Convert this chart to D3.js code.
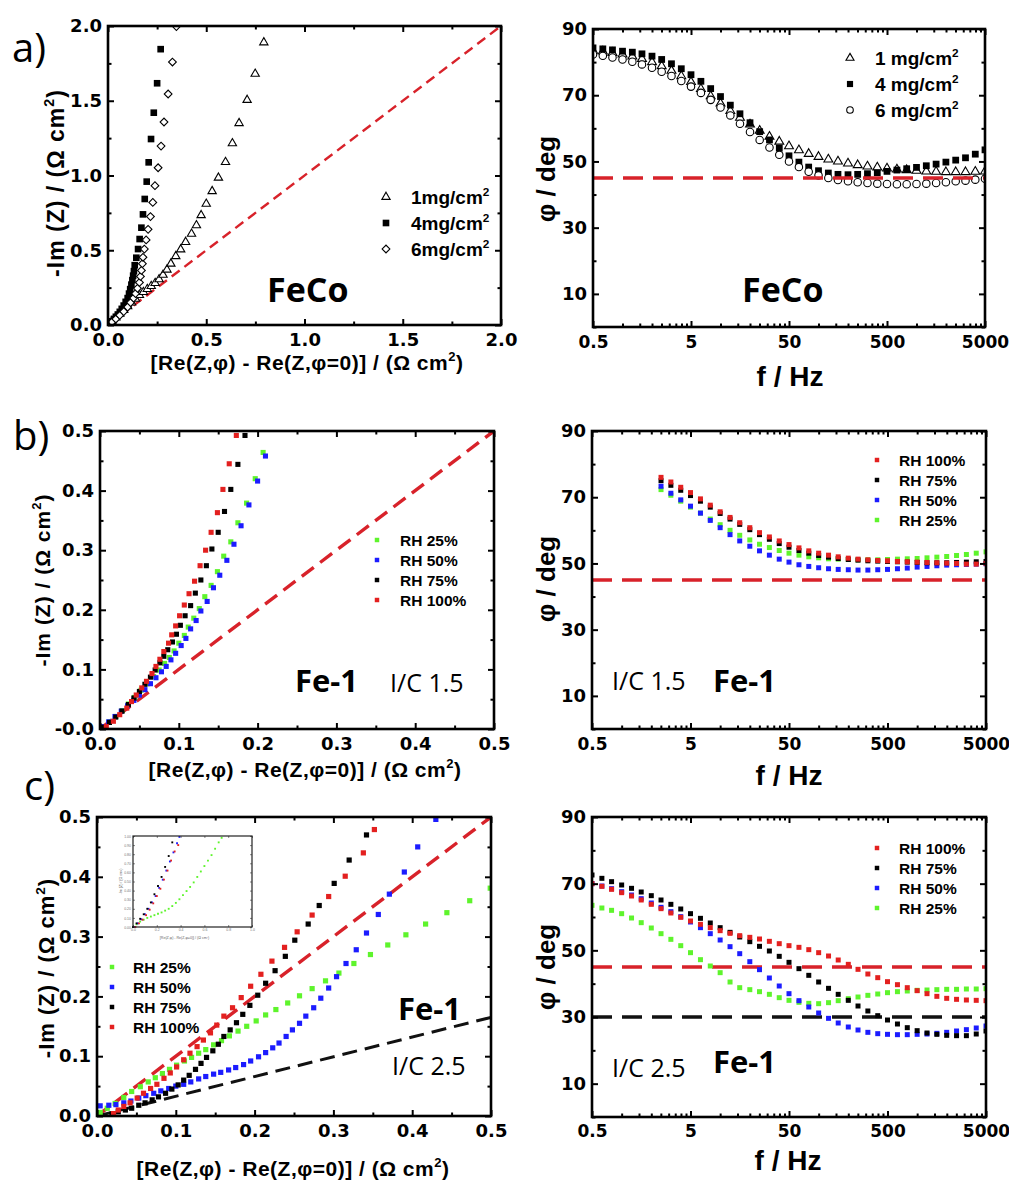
<!DOCTYPE html>
<html>
<head>
<meta charset="utf-8">
<script src="https://cdn.jsdelivr.net/npm/d3@7"></script>
<style>
  body { margin: 0; background: #fff; }
</style>
</head>
<body>
<svg id="fig" width="1009" height="1183"></svg>
<script>
// ---------- data ----------
// a) left: FeCo, x = Re diff, y = -Im (Ohm cm2)
const aLoad1 = [[0,0],[0.02,0.025],[0.04,0.05],[0.06,0.075],[0.08,0.10],[0.10,0.125],[0.12,0.15],[0.14,0.175],[0.16,0.20],[0.18,0.22],[0.20,0.24],[0.22,0.26],[0.24,0.28],[0.26,0.305],[0.28,0.335],[0.30,0.37],[0.32,0.41],[0.345,0.46],[0.37,0.505],[0.395,0.555],[0.425,0.61],[0.45,0.667],[0.474,0.734],[0.50,0.81],[0.53,0.895],[0.562,0.985],[0.598,1.09],[0.633,1.215],[0.667,1.35],[0.708,1.505],[0.749,1.68],[0.793,1.89]];
const aLoad4 = [[0,0],[0.01,0.012],[0.02,0.025],[0.03,0.04],[0.04,0.055],[0.05,0.07],[0.06,0.088],[0.07,0.108],[0.08,0.13],[0.09,0.155],[0.10,0.18],[0.107,0.21],[0.113,0.24],[0.119,0.27],[0.124,0.30],[0.128,0.33],[0.132,0.36],[0.136,0.40],[0.144,0.45],[0.153,0.508],[0.161,0.575],[0.17,0.651],[0.178,0.74],[0.187,0.843],[0.197,0.959],[0.207,1.088],[0.219,1.244],[0.233,1.42],[0.25,1.617],[0.268,1.845]];
const aLoad6 = [[0,0],[0.02,0.02],[0.04,0.04],[0.06,0.065],[0.08,0.09],[0.10,0.12],[0.115,0.15],[0.13,0.18],[0.14,0.21],[0.15,0.245],[0.16,0.285],[0.165,0.325],[0.17,0.365],[0.175,0.41],[0.178,0.453],[0.185,0.508],[0.194,0.569],[0.204,0.64],[0.216,0.725],[0.228,0.82],[0.239,0.932],[0.255,1.052],[0.27,1.197],[0.285,1.358],[0.306,1.545],[0.328,1.759],[0.348,1.996]];
const aLeftRef = [[0,0],[2,2]];

// shared frequency list (Hz) for the phase plots
const freqs = [0.5,0.63,0.79,1.0,1.26,1.58,2.0,2.51,3.16,3.98,5.0,6.31,7.94,10,12.6,15.8,20,25.1,31.6,39.8,50,63.1,79.4,100,126,158,200,251,316,398,500,631,794,1000,1259,1585,1995,2512,3162,3981,5000];

// a) right: phase (deg)
const aPh1 = [83.5,83.2,82.8,82.3,81.7,81,80,78.8,77.4,75.8,74,71.9,69.7,67.5,65.3,63.2,61.2,59.3,57.5,56,54.6,53.4,52.3,51.4,50.6,50,49.4,48.9,48.5,48.2,47.9,47.6,47.4,47.2,47,46.9,46.8,46.8,46.8,46.9,47];
const aPh4 = [84.3,84,83.7,83.3,83,82.5,81.8,80.8,79.5,78,76.2,74.2,72,69.6,67,64.4,61.7,59,56.5,54,51.7,49.8,48.3,47.2,46.5,46.1,46,46.1,46.3,46.6,47,47.4,47.8,48.2,48.7,49.2,49.8,50.4,51.1,52.2,53.5];
const aPh6 = [82.3,81.9,81.4,80.8,80.1,79.3,78.3,77.1,75.8,74.3,72.6,70.7,68.6,66.3,63.9,61.4,58.9,56.5,54.2,52,50,48.3,46.9,45.8,45,44.4,44,43.7,43.5,43.3,43.2,43.1,43.1,43.2,43.3,43.5,43.7,44,44.2,44.5,44.8];

// b) left: Fe-1, I/C 1.5
const bRh25 = [[0.004,0.004],[0.012,0.012],[0.02,0.021],[0.028,0.031],[0.036,0.042],[0.044,0.053],[0.052,0.065],[0.06,0.076],[0.068,0.088],[0.075,0.099],[0.082,0.11],[0.088,0.12],[0.094,0.131],[0.1,0.144],[0.107,0.157],[0.112,0.171],[0.119,0.186],[0.126,0.202],[0.133,0.222],[0.141,0.241],[0.149,0.264],[0.157,0.29],[0.166,0.314],[0.175,0.346],[0.186,0.379],[0.197,0.42],[0.207,0.464]];
const bRh50 = [[0.004,0.004],[0.011,0.012],[0.019,0.021],[0.027,0.03],[0.035,0.039],[0.043,0.048],[0.05,0.057],[0.057,0.066],[0.064,0.076],[0.071,0.086],[0.078,0.096],[0.084,0.105],[0.09,0.116],[0.096,0.127],[0.103,0.14],[0.109,0.152],[0.115,0.168],[0.122,0.182],[0.128,0.198],[0.136,0.214],[0.144,0.237],[0.152,0.258],[0.161,0.283],[0.17,0.31],[0.179,0.341],[0.189,0.376],[0.2,0.416],[0.21,0.458]];
const bRh75 = [[0.004,0.003],[0.012,0.011],[0.02,0.02],[0.028,0.03],[0.036,0.041],[0.043,0.052],[0.05,0.063],[0.057,0.075],[0.064,0.087],[0.07,0.099],[0.076,0.111],[0.081,0.122],[0.086,0.133],[0.092,0.146],[0.097,0.159],[0.102,0.174],[0.108,0.19],[0.115,0.207],[0.121,0.228],[0.128,0.25],[0.135,0.274],[0.142,0.302],[0.15,0.33],[0.158,0.365],[0.166,0.402],[0.175,0.444],[0.184,0.4925]];
const bRh100 = [[0.008,0.004],[0.017,0.013],[0.025,0.024],[0.034,0.035],[0.04,0.046],[0.046,0.057],[0.053,0.069],[0.059,0.08],[0.066,0.093],[0.071,0.105],[0.076,0.117],[0.081,0.13],[0.087,0.144],[0.091,0.158],[0.096,0.173],[0.101,0.19],[0.107,0.208],[0.113,0.227],[0.12,0.248],[0.127,0.274],[0.134,0.3],[0.141,0.33],[0.149,0.363],[0.156,0.402],[0.164,0.445],[0.173,0.4925]];
const bLeftRef = [[0,0],[0.5,0.5]];

// b) right: phase, measured from 2.51 Hz upward
const bFreqs = freqs.slice(7);
const bPh100 = [76,74.6,73,71.4,69.5,67.6,65.6,63.9,62.3,60.8,59.3,58,56.8,55.7,54.7,53.8,53.1,52.5,52,51.6,51.3,51.1,50.9,50.8,50.6,50.5,50.4,50.3,50.2,50.1,50,49.8,49.8,50];
const bPh75 = [75,73.6,72.1,70.5,68.8,67,65.1,63.4,61.8,60.2,58.7,57.3,56,54.9,53.9,53.1,52.4,51.9,51.5,51.2,51,50.8,50.7,50.6,50.5,50.4,50.3,50.2,50.2,50.2,50.3,50.4,50.5,50.6];
const bPh50 = [73.3,71.2,69.2,67.3,65.2,63,60.8,58.7,56.8,55.2,53.8,52.5,51.3,50.4,49.6,49.1,48.7,48.4,48.2,48.1,48,48,48.1,48.2,48.4,48.6,48.9,49.1,49.3,49.5,49.6,49.7,49.8,49.9];
const bPh25 = [72.3,70.6,68.8,67,65.2,63.4,61.7,60,58.5,57.1,55.8,54.8,53.9,53.1,52.5,52,51.7,51.4,51.3,51.2,51.1,51.1,51.1,51.2,51.3,51.4,51.5,51.7,51.9,52.1,52.4,52.7,53.1,53.5];

// c) left: Fe-1, I/C 2.5
const cRh25 = [[0.004,0.006],[0.013,0.013],[0.023,0.021],[0.034,0.031],[0.044,0.041],[0.055,0.049],[0.065,0.057],[0.074,0.064],[0.083,0.071],[0.092,0.078],[0.101,0.085],[0.111,0.092],[0.12,0.098],[0.129,0.105],[0.138,0.111],[0.148,0.119],[0.158,0.126],[0.168,0.134],[0.179,0.142],[0.19,0.15],[0.202,0.159],[0.214,0.169],[0.227,0.178],[0.242,0.189],[0.257,0.201],[0.273,0.213],[0.29,0.226],[0.307,0.239],[0.326,0.255],[0.347,0.27],[0.369,0.286],[0.392,0.303],[0.417,0.321],[0.444,0.34],[0.473,0.36],[0.499,0.381]];
const cRh50 = [[0.004,0.017],[0.015,0.018],[0.024,0.019],[0.034,0.022],[0.043,0.025],[0.053,0.03],[0.062,0.034],[0.072,0.038],[0.081,0.042],[0.091,0.046],[0.1,0.05],[0.11,0.053],[0.119,0.057],[0.129,0.062],[0.138,0.066],[0.148,0.07],[0.157,0.073],[0.167,0.077],[0.176,0.081],[0.186,0.086],[0.195,0.092],[0.205,0.099],[0.214,0.106],[0.223,0.114],[0.231,0.122],[0.24,0.133],[0.248,0.144],[0.257,0.155],[0.265,0.167],[0.275,0.181],[0.284,0.197],[0.294,0.214],[0.304,0.233],[0.316,0.255],[0.329,0.278],[0.342,0.306],[0.357,0.337],[0.371,0.371],[0.39,0.408],[0.407,0.45],[0.43,0.496]];
const cRh75 = [[0.019,0.003],[0.027,0.007],[0.036,0.01],[0.044,0.013],[0.053,0.018],[0.061,0.022],[0.07,0.027],[0.078,0.032],[0.087,0.038],[0.095,0.045],[0.103,0.052],[0.11,0.06],[0.117,0.068],[0.125,0.078],[0.132,0.088],[0.139,0.098],[0.147,0.109],[0.154,0.12],[0.161,0.133],[0.169,0.144],[0.177,0.156],[0.185,0.17],[0.194,0.185],[0.204,0.202],[0.214,0.222],[0.226,0.243],[0.239,0.267],[0.251,0.294],[0.268,0.321],[0.282,0.352],[0.301,0.389],[0.32,0.428],[0.342,0.47]];
const cRh100 = [[0.021,0.004],[0.027,0.01],[0.034,0.016],[0.042,0.022],[0.051,0.03],[0.059,0.038],[0.068,0.046],[0.076,0.053],[0.085,0.063],[0.093,0.072],[0.101,0.082],[0.11,0.094],[0.118,0.105],[0.127,0.116],[0.135,0.127],[0.144,0.139],[0.152,0.152],[0.161,0.167],[0.172,0.181],[0.183,0.198],[0.195,0.217],[0.208,0.237],[0.222,0.259],[0.238,0.282],[0.254,0.308],[0.273,0.336],[0.294,0.367],[0.315,0.401],[0.338,0.44],[0.352,0.479]];
const cLeftRefRed = [[0,0],[0.5,0.5]];
const cLeftRefBlack = [[0,0],[0.5,0.165]];

// c) inset (normalised axes)
const insetRh25 = [[0,0],[0.03,0.03],[0.06,0.06],[0.09,0.08],[0.12,0.10],[0.15,0.115],[0.18,0.13],[0.21,0.145],[0.24,0.16],[0.27,0.18],[0.30,0.2],[0.33,0.23],[0.36,0.265],[0.39,0.305],[0.42,0.35],[0.45,0.395],[0.48,0.44],[0.51,0.49],[0.54,0.55],[0.57,0.61],[0.60,0.67],[0.63,0.73],[0.66,0.79],[0.69,0.86],[0.72,0.93],[0.745,0.98]];
const insetRh50 = [[0.01,0],[0.04,0.04],[0.07,0.085],[0.1,0.14],[0.13,0.2],[0.16,0.27],[0.19,0.34],[0.22,0.43],[0.25,0.52],[0.28,0.62],[0.31,0.72],[0.34,0.82],[0.37,0.92],[0.39,0.99]];
const insetRh75 = [[0,0],[0.03,0.04],[0.06,0.09],[0.09,0.14],[0.12,0.2],[0.15,0.27],[0.18,0.36],[0.21,0.45],[0.24,0.55],[0.27,0.66],[0.30,0.78],[0.33,0.93]];
const insetRh100 = [[0.02,0],[0.05,0.04],[0.08,0.08],[0.11,0.13],[0.14,0.19],[0.17,0.26],[0.2,0.34],[0.23,0.42],[0.26,0.52],[0.29,0.62],[0.32,0.73],[0.35,0.83],[0.38,0.9]];

// c) right: phase
const cPh100 = [70,69.2,68.3,67.3,66.3,65.1,63.8,62.5,61.2,59.9,58.8,57.8,56.8,55.9,55.1,54.4,53.9,53.4,52.7,52,51.4,50.9,50.2,49.3,48.3,47.1,45.8,44.3,42.9,41.8,40.6,39.7,38.8,37.9,37,36.2,35.6,35.3,35.1,35,34.9];
const cPh75 = [72.6,71.6,70.6,69.6,68.6,67.5,66.4,65.1,63.8,62.4,61,59.6,58.2,56.8,55.4,54,52.6,51.2,49.8,48.2,46.4,44.5,42.5,40.5,38.6,36.8,35,33.3,31.8,30.4,29.1,27.9,26.8,25.9,25.2,24.8,24.5,24.4,24.4,24.9,25.8];
const cPh50 = [70,69.3,68.5,67.6,66.6,65.5,64.2,62.9,61.6,60.1,58.5,56.8,55,53.1,51.1,49,46.6,44.2,41.7,39.3,37,34.9,33,31.2,29.6,28.2,27,26.1,25.4,25,24.8,24.7,24.7,24.8,24.9,25.1,25.4,25.8,26.2,26.7,27.3];
const cPh25 = [63.5,62.7,62,61,59.7,58.3,56.7,55,53.3,51.4,49.3,47.2,45.3,43.3,40.5,38.8,38.2,37.6,36.8,35.8,35,34.4,34.1,34,34.3,34.9,35.5,36,36.5,36.9,37.3,37.6,37.8,38,38.1,38.2,38.3,38.3,38.4,38.4,38.5];

// reference phase lines (deg)
const phaseRed = 45;
const phaseBlack = 30;

// tick labels
const nyqTicksA = [0, 0.5, 1.0, 1.5, 2.0];
const nyqTicksBC = [0, 0.1, 0.2, 0.3, 0.4, 0.5];
const freqTicks = [0.5, 5, 50, 500, 5000];
const phaseTicks = [10, 30, 50, 70, 90];

// ---------- styles ----------
const FONT = '"Liberation Sans", Arial, sans-serif';
const TICKFONT = '"DejaVu Sans", sans-serif';
const ANNOT = '"Open Sans", sans-serif';
const RED = "#e3201f", GREEN = "#5ef42c", BLUE = "#1c1cff", BLACK = "#000";
const DASHRED = "#d8222a";

const svg = d3.select("#fig");
const defs = svg.append("defs");
const fmt1 = d3.format(".1f");

function stepTicks(lo, hi, step) {
    const t = [];
    for (let v = lo; v <= hi + 1e-9; v += step) t.push(+v.toFixed(4));
    return t;
}
function logMinor(lo, hi) {
    const t = [];
    for (let d = lo; d < hi; d *= 10) for (let m = 2; m <= 9; m++) t.push(d * m);
    return t;
}

function addAxis(layer, gen, scale, tr, vals, len, fmt, pad, fs) {
    const a = gen(scale).tickValues(vals).tickSizeInner(-len).tickSizeOuter(0)
        .tickPadding(pad).tickFormat(fmt);
    const s = layer.append("g").attr("transform", tr).call(a)
        .attr("font-family", TICKFONT).attr("font-size", fs).attr("font-weight", "bold");
    s.select(".domain").remove();
    s.selectAll(".tick line").attr("stroke", "#000").attr("stroke-width", 2);
    s.selectAll(".tick text").attr("fill", "#000");
}

function makePanel(cfg) {
    const b = cfg.box;
    const x = (cfg.logX ? d3.scaleLog() : d3.scaleLinear()).domain(cfg.xDomain).range([b.left, b.right]);
    const y = d3.scaleLinear().domain(cfg.yDomain).range([b.bottom, b.top]);
    const g = svg.append("g");
    defs.append("clipPath").attr("id", "clip-" + cfg.name).append("rect")
        .attr("x", b.left).attr("y", b.top).attr("width", b.right - b.left).attr("height", b.bottom - b.top);
    const plot = g.append("g").attr("clip-path", `url(#clip-${cfg.name})`);
    const axes = g.append("g");
    const none = () => "";
    const xt = cfg.xTicks, yt = cfg.yTicks;
    const xfs = xt.fs || 18;

    addAxis(axes, d3.axisBottom, x, `translate(0,${b.bottom})`, xt.major, 6, xt.fmt, xt.pad, xfs);
    addAxis(axes, d3.axisBottom, x, `translate(0,${b.bottom})`, xt.minor, 3.5, none, 0, xfs);
    addAxis(axes, d3.axisTop, x, `translate(0,${b.top})`, xt.major, 6, none, 0, xfs);
    addAxis(axes, d3.axisTop, x, `translate(0,${b.top})`, xt.minor, 3.5, none, 0, xfs);
    addAxis(axes, d3.axisLeft, y, `translate(${b.left},0)`, yt.major, 6, yt.fmt, yt.pad, 18);
    addAxis(axes, d3.axisLeft, y, `translate(${b.left},0)`, yt.minor, 3.5, none, 0, 18);
    addAxis(axes, d3.axisRight, y, `translate(${b.right},0)`, yt.major, 6, none, 0, 18);
    addAxis(axes, d3.axisRight, y, `translate(${b.right},0)`, yt.minor, 3.5, none, 0, 18);

    axes.append("rect").attr("x", b.left).attr("y", b.top)
        .attr("width", b.right - b.left).attr("height", b.bottom - b.top)
        .attr("fill", "none").attr("stroke", "#000").attr("stroke-width", 2.6);
    return { x, y, plot, g };
}

function drawPoints(layer, x, y, pts, st) {
    layer.append("g").selectAll("path").data(pts).join("path")
        .attr("transform", d => `translate(${x(d[0])},${y(d[1])})` + (st.rotate ? " rotate(45)" : ""))
        .attr("d", d3.symbol().type(st.type).size(st.size))
        .attr("fill", st.fill)
        .attr("stroke", st.stroke || "none")
        .attr("stroke-width", st.sw || 0);
}

function drawRef(layer, x, y, pts, color, dash, width) {
    layer.append("path").datum(pts)
        .attr("d", d3.line().x(d => x(d[0])).y(d => y(d[1])))
        .attr("fill", "none").attr("stroke", color)
        .attr("stroke-width", width).attr("stroke-dasharray", dash);
}

function phasePts(fs, vals) {
    return fs.map((f, i) => [f, vals[i]]);
}

// text with superscripts: parts are strings or {sup: "2"}
function rich(sel, parts, fs) {
    let shift = 0;
    parts.forEach(p => {
        const isSup = typeof p === "object";
        const target = isSup ? -fs * 0.42 : 0;
        sel.append("tspan").attr("dy", target - shift)
            .attr("font-size", isSup ? fs * 0.62 : fs)
            .text(isSup ? p.sup : p);
        shift = target;
    });
    return sel;
}

function label(x, y, parts, fs, opts) {
    opts = opts || {};
    const t = svg.append("text")
        .attr("transform", opts.rotate ? `translate(${x},${y}) rotate(-90)` : `translate(${x},${y})`)
        .attr("text-anchor", opts.anchor || "middle")
        .attr("font-family", opts.family || FONT)
        .attr("font-weight", opts.weight || "bold")
        .attr("font-size", fs)
        .attr("letter-spacing", opts.ls || 0)
        .attr("fill", "#000");
    return rich(t, parts, fs);
}

function legend(items, mx, tx, rows, fs) {
    items.forEach((it, i) => {
        svg.append("path")
            .attr("transform", `translate(${mx},${rows[i]})` + (it.st.rotate ? " rotate(45)" : ""))
            .attr("d", d3.symbol().type(it.st.type).size(it.st.legendSize || it.st.size))
            .attr("fill", it.st.fill).attr("stroke", it.st.stroke || "none").attr("stroke-width", it.st.sw || 0);
        label(tx, rows[i] + fs * 0.36, it.label, fs, { anchor: "start" });
    });
}

// marker styles
const triA = { type: d3.symbolTriangle, size: 30, fill: "#fff", stroke: "#000", sw: 1.1 };
const sqA = { type: d3.symbolSquare, size: 44, fill: "#000" };
const diaA = { type: d3.symbolSquare, size: 30, fill: "#fff", stroke: "#000", sw: 1.1, rotate: true };
const triR = { type: d3.symbolTriangle, size: 34, fill: "#fff", stroke: "#000", sw: 1.1, legendSize: 28 };
const sqR = { type: d3.symbolSquare, size: 46, fill: "#000", legendSize: 38 };
const circR = { type: d3.symbolCircle, size: 44, fill: "#fff", stroke: "#000", sw: 1.1, legendSize: 34 };
function sqc(color, size) { return { type: d3.symbolSquare, size: size, fill: color, legendSize: 20 }; }

const logMinorTicks = logMinor(0.5, 5000);
const phaseMinor = [0, 20, 40, 60, 80];
const freqFmt = d => String(d);

// ---------- a) left ----------
const aL = makePanel({
    name: "aL", box: { left: 108, right: 501, top: 26, bottom: 325 },
    xDomain: [0, 2], yDomain: [0, 2],
    xTicks: { major: nyqTicksA, minor: stepTicks(0.25, 1.75, 0.5), fmt: fmt1, pad: 8 },
    yTicks: { major: nyqTicksA, minor: stepTicks(0.25, 1.75, 0.5), fmt: fmt1, pad: 6 }
});
drawRef(aL.plot, aL.x, aL.y, aLeftRef, DASHRED, "10,6", 2.4);
drawPoints(aL.plot, aL.x, aL.y, aLoad1, triA);
drawPoints(aL.plot, aL.x, aL.y, aLoad4, sqA);
drawPoints(aL.plot, aL.x, aL.y, aLoad6, diaA);
legend([
    { st: triA, label: ["1mg/cm", { sup: "2" }] },
    { st: sqA, label: ["4mg/cm", { sup: "2" }] },
    { st: diaA, label: ["6mg/cm", { sup: "2" }] }
], 386, 411, [197, 223, 249], 19);

// ---------- a) right ----------
const aR = makePanel({
    name: "aR", box: { left: 593, right: 985, top: 29, bottom: 327 }, logX: true,
    xDomain: [0.5, 5000], yDomain: [0, 90],
    xTicks: { major: freqTicks, minor: logMinorTicks, fmt: freqFmt, pad: 9, fs: 17 },
    yTicks: { major: phaseTicks, minor: phaseMinor, fmt: d3.format("d"), pad: 6 }
});
drawPoints(aR.plot, aR.x, aR.y, phasePts(freqs, aPh1), triR);
drawPoints(aR.plot, aR.x, aR.y, phasePts(freqs, aPh4), sqR);
drawPoints(aR.plot, aR.x, aR.y, phasePts(freqs, aPh6), circR);
drawRef(aR.plot, aR.x, aR.y, [[0.5, phaseRed], [5000, phaseRed]], DASHRED, "20,10", 3.4);
legend([
    { st: triR, label: ["1 mg/cm", { sup: "2" }] },
    { st: sqR, label: ["4 mg/cm", { sup: "2" }] },
    { st: circR, label: ["6 mg/cm", { sup: "2" }] }
], 850, 875, [58, 84, 110], 19);

// ---------- b) left ----------
const bL = makePanel({
    name: "bL", box: { left: 100, right: 494, top: 431, bottom: 729 },
    xDomain: [0, 0.5], yDomain: [0, 0.5],
    xTicks: { major: nyqTicksBC, minor: stepTicks(0.05, 0.45, 0.1), fmt: fmt1, pad: 8 },
    yTicks: { major: nyqTicksBC, minor: stepTicks(0.05, 0.45, 0.1), fmt: d => d === 0 ? "-0.0" : fmt1(d), pad: 6 }
});
drawRef(bL.plot, bL.x, bL.y, bLeftRef, DASHRED, "15,8", 3.4);
drawPoints(bL.plot, bL.x, bL.y, bRh25, sqc(GREEN, 26));
drawPoints(bL.plot, bL.x, bL.y, bRh50, sqc(BLUE, 26));
drawPoints(bL.plot, bL.x, bL.y, bRh75, sqc(BLACK, 26));
drawPoints(bL.plot, bL.x, bL.y, bRh100, sqc(RED, 26));
legend([
    { st: sqc(GREEN, 26), label: ["RH 25%"] },
    { st: sqc(BLUE, 26), label: ["RH 50%"] },
    { st: sqc(BLACK, 26), label: ["RH 75%"] },
    { st: sqc(RED, 26), label: ["RH 100%"] }
], 377, 400, [540, 560, 580, 600], 15.5);

// ---------- b) right ----------
const bR = makePanel({
    name: "bR", box: { left: 592, right: 986, top: 431, bottom: 729 }, logX: true,
    xDomain: [0.5, 5000], yDomain: [0, 90],
    xTicks: { major: freqTicks, minor: logMinorTicks, fmt: freqFmt, pad: 9, fs: 17 },
    yTicks: { major: phaseTicks, minor: phaseMinor, fmt: d3.format("d"), pad: 6 }
});
drawRef(bR.plot, bR.x, bR.y, [[0.5, phaseRed], [5000, phaseRed]], DASHRED, "20,10", 3.4);
drawPoints(bR.plot, bR.x, bR.y, phasePts(bFreqs, bPh25), sqc(GREEN, 25));
drawPoints(bR.plot, bR.x, bR.y, phasePts(bFreqs, bPh50), sqc(BLUE, 25));
drawPoints(bR.plot, bR.x, bR.y, phasePts(bFreqs, bPh75), sqc(BLACK, 25));
drawPoints(bR.plot, bR.x, bR.y, phasePts(bFreqs, bPh100), sqc(RED, 25));
legend([
    { st: sqc(RED, 25), label: ["RH 100%"] },
    { st: sqc(BLACK, 25), label: ["RH 75%"] },
    { st: sqc(BLUE, 25), label: ["RH 50%"] },
    { st: sqc(GREEN, 25), label: ["RH 25%"] }
], 877, 899, [460, 480, 500, 520], 15.5);

// ---------- c) left ----------
const cL = makePanel({
    name: "cL", box: { left: 97, right: 491, top: 817, bottom: 1116 },
    xDomain: [0, 0.5], yDomain: [0, 0.5],
    xTicks: { major: nyqTicksBC, minor: stepTicks(0.05, 0.45, 0.1), fmt: fmt1, pad: 8 },
    yTicks: { major: nyqTicksBC, minor: stepTicks(0.05, 0.45, 0.1), fmt: fmt1, pad: 6 }
});
drawRef(cL.plot, cL.x, cL.y, cLeftRefRed, DASHRED, "15,8", 3.4);
drawRef(cL.plot, cL.x, cL.y, cLeftRefBlack, "#111", "15,8", 3);
drawPoints(cL.plot, cL.x, cL.y, cRh25, sqc(GREEN, 27));
drawPoints(cL.plot, cL.x, cL.y, cRh50, sqc(BLUE, 27));
drawPoints(cL.plot, cL.x, cL.y, cRh75, sqc(BLACK, 27));
drawPoints(cL.plot, cL.x, cL.y, cRh100, sqc(RED, 27));
legend([
    { st: sqc(GREEN, 27), label: ["RH 25%"] },
    { st: sqc(BLUE, 27), label: ["RH 50%"] },
    { st: sqc(BLACK, 27), label: ["RH 75%"] },
    { st: sqc(RED, 27), label: ["RH 100%"] }
], 112, 133, [967, 987, 1007, 1027], 15.5);

// inset
(function () {
    const b = { left: 133, right: 252, top: 836, bottom: 927 };
    const x = d3.scaleLinear().domain([0, 1]).range([b.left, b.right]);
    const y = d3.scaleLinear().domain([0, 1]).range([b.bottom, b.top]);
    const g = svg.append("g");
    g.append("rect").attr("x", b.left).attr("y", b.top).attr("width", b.right - b.left)
        .attr("height", b.bottom - b.top).attr("fill", "#fff");
    const small = (gen, tr, vals, fmt, pad) => {
        const s = g.append("g").attr("transform", tr)
            .call(gen.tickValues(vals).tickSizeInner(-2).tickSizeOuter(0).tickPadding(pad).tickFormat(fmt))
            .attr("font-family", FONT).attr("font-size", 3.5);
        s.select(".domain").remove();
        s.selectAll("line").attr("stroke", "#333").attr("stroke-width", 0.6);
        s.selectAll("text").attr("fill", "#777");
    };
    const tv = stepTicks(0, 1, 0.2);
    small(d3.axisBottom(x), `translate(0,${b.bottom})`, tv, d3.format(".1f"), 2);
    small(d3.axisLeft(y), `translate(${b.left},0)`, stepTicks(0, 1, 0.1), d3.format(".2f"), 2);
    small(d3.axisTop(x), `translate(0,${b.top})`, tv, () => "", 0);
    small(d3.axisRight(y), `translate(${b.right},0)`, stepTicks(0, 1, 0.1), () => "", 0);
    const st = c => ({ type: d3.symbolSquare, size: 3.5, fill: c });
    drawPoints(g, x, y, insetRh25, st(GREEN));
    drawPoints(g, x, y, insetRh50, st(BLUE));
    drawPoints(g, x, y, insetRh75, st(BLACK));
    drawPoints(g, x, y, insetRh100, st(RED));
    g.append("rect").attr("x", b.left).attr("y", b.top).attr("width", b.right - b.left)
        .attr("height", b.bottom - b.top).attr("fill", "none").attr("stroke", "#222").attr("stroke-width", 1.2);
    g.append("text").attr("x", (b.left + b.right) / 2 - 8).attr("y", b.bottom + 12)
        .attr("text-anchor", "middle").attr("font-family", FONT).attr("font-size", 3.6)
        .attr("fill", "#666").text("[Re(Z,φ) - Re(Z,φ=0)] / (Ω cm²)");
    g.append("text").attr("transform", `translate(${b.left - 11},${(b.top + b.bottom) / 2}) rotate(-90)`)
        .attr("text-anchor", "middle").attr("font-family", FONT).attr("font-size", 3.6)
        .attr("fill", "#666").text("-Im (Z) / (Ω cm²)");
})();

// ---------- c) right ----------
const cR = makePanel({
    name: "cR", box: { left: 592, right: 986, top: 817, bottom: 1117 }, logX: true,
    xDomain: [0.5, 5000], yDomain: [0, 90],
    xTicks: { major: freqTicks, minor: logMinorTicks, fmt: freqFmt, pad: 8, fs: 17 },
    yTicks: { major: phaseTicks, minor: phaseMinor, fmt: d3.format("d"), pad: 6 }
});
drawRef(cR.plot, cR.x, cR.y, [[0.5, phaseRed], [5000, phaseRed]], DASHRED, "20,10", 3.4);
drawRef(cR.plot, cR.x, cR.y, [[0.5, phaseBlack], [5000, phaseBlack]], "#111", "20,10", 3.4);
drawPoints(cR.plot, cR.x, cR.y, phasePts(freqs, cPh25), sqc(GREEN, 25));
drawPoints(cR.plot, cR.x, cR.y, phasePts(freqs, cPh50), sqc(BLUE, 25));
drawPoints(cR.plot, cR.x, cR.y, phasePts(freqs, cPh75), sqc(BLACK, 25));
drawPoints(cR.plot, cR.x, cR.y, phasePts(freqs, cPh100), sqc(RED, 25));
legend([
    { st: sqc(RED, 25), label: ["RH 100%"] },
    { st: sqc(BLACK, 25), label: ["RH 75%"] },
    { st: sqc(BLUE, 25), label: ["RH 50%"] },
    { st: sqc(GREEN, 25), label: ["RH 25%"] }
], 877, 899, [848, 868, 888, 908], 15.5);

// ---------- axis titles ----------
const reLabel = ["[Re(Z,φ) - Re(Z,φ=0)] / (Ω cm", { sup: "2" }, ")"];
const imLabel = ["-Im (Z) / (Ω cm", { sup: "2" }, ")"];
label(307, 370, reLabel, 21, { ls: 0.5 });
label(305, 777, reLabel, 21, { ls: 0.5 });
label(293, 1176, reLabel, 21, { ls: 0.5 });
label(64, 183, imLabel, 23, { rotate: true, ls: 1 });
label(50, 580, imLabel, 21, { rotate: true, ls: 1 });
label(54, 968, imLabel, 22, { rotate: true, ls: 1 });
label(790, 386, ["f / Hz"], 28);
label(789, 785, ["f / Hz"], 28);
label(788, 1170, ["f / Hz"], 28);
label(555, 179, ["φ / deg"], 26, { rotate: true });
label(555, 579, ["φ / deg"], 26, { rotate: true });
label(555, 967, ["φ / deg"], 26, { rotate: true });

// ---------- annotations ----------
const ann = (x, y, txt, fs, w) => label(x, y, [txt], fs, { anchor: "start", family: ANNOT, weight: w });
ann(267, 302, "FeCo", 34, "bold");
ann(742, 302, "FeCo", 34, "bold");
ann(295, 692, "Fe-1", 31, "bold");
ann(390, 692, "I/C 1.5", 25, "normal");
ann(612, 690, "I/C 1.5", 25, "normal");
ann(713, 692, "Fe-1", 31, "bold");
ann(398, 1020, "Fe-1", 31, "bold");
ann(392, 1075, "I/C 2.5", 25, "normal");
ann(612, 1077, "I/C 2.5", 25, "normal");
ann(713, 1073, "Fe-1", 31, "bold");

// panel letters
ann(12, 62, "a)", 40, "normal");
ann(13, 450, "b)", 40, "normal");
ann(24, 800, "c)", 40, "normal");
</script>
</body>
</html>
